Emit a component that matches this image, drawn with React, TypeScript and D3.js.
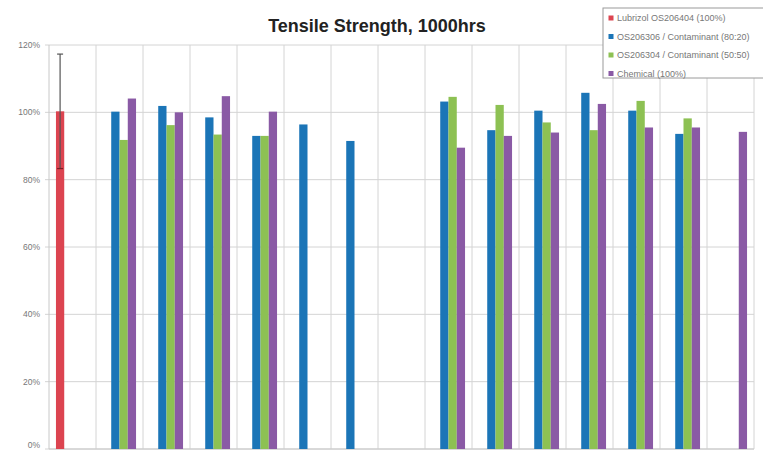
import React from "react";
import * as d3 from "d3";

const categories = ["1", "2", "3", "4", "5", "6", "7", "8", "9", "10", "11", "12", "13", "14", "15"];
const seriesNames = [
  "Lubrizol OS206404 (100%)",
  "OS206306 / Contaminant (80:20)",
  "OS206304 / Contaminant (50:50)",
  "Chemical (100%)",
];
const seriesColors = ["#dc4450", "#1b75b7", "#8dc153", "#8a5aa5"];
const lubrizol = [1.003, null, null, null, null, null, null, null, null, null, null, null, null, null, null];
const contam8020 = [null, 1.002, 1.019, 0.985, 0.93, 0.964, 0.915, null, 1.032, 0.947, 1.005, 1.058, 1.005, 0.936, null];
const contam5050 = [null, 0.918, 0.962, 0.934, 0.93, null, null, null, 1.046, 1.022, 0.97, 0.947, 1.034, 0.982, null];
const chemical = [null, 1.041, 1.0, 1.048, 1.002, null, null, null, 0.895, 0.93, 0.94, 1.025, 0.955, 0.955, 0.942];
const lubrizolError = 0.17;
const yTicks = [0, 0.2, 0.4, 0.6, 0.8, 1.0, 1.2];

const W = 763;
const H = 452;
const left = 49;
const right = 754;
const top = 45;
const bottom = 449;

const App = () => {
  const series = [lubrizol, contam8020, contam5050, chemical];
  const x = d3.scaleBand<string>().domain(categories).range([left, right]);
  const bw = x.bandwidth();
  const gap = bw * 0.148;
  const inner = d3
    .scaleBand<number>()
    .domain([0, 1, 2, 3])
    .range([gap, bw - gap]);
  const y = d3.scaleLinear().domain([0, 1.2]).range([bottom, top]);
  const fmt = d3.format(".0%");

  const redX = (x(categories[0]) ?? 0) + (inner(0) ?? 0) + inner.bandwidth() / 2;

  return (
    <div style={{ position: "absolute", left: 0, top: 0 }}>
      <svg width={W} height={H} style={{ display: "block", fontFamily: "Liberation Sans, Arial, sans-serif" }}>
        <rect width={W} height={H} fill="#fff" />
        {/* horizontal gridlines */}
        {yTicks.map((t) => (
          <g key={t}>
            <line x1={left - 4} x2={right} y1={y(t)} y2={y(t)} stroke="#d4d4d4" strokeWidth={1} />
            <text x={40} y={Math.min(y(t), 445)} dy="0.35em" textAnchor="end" fontSize={8.5} fill="#777">
              {fmt(t)}
            </text>
          </g>
        ))}
        {/* vertical gridlines */}
        {categories.map((c) => (
          <line
            key={c}
            x1={(x(c) ?? 0) + bw}
            x2={(x(c) ?? 0) + bw}
            y1={top}
            y2={bottom}
            stroke="#d4d4d4"
            strokeWidth={1}
          />
        ))}
        <line x1={left} x2={left} y1={top} y2={bottom} stroke="#c8c8c8" />
        <line x1={left} x2={right} y1={bottom} y2={bottom} stroke="#c8c8c8" />
        {/* bars */}
        {series.map((s, si) =>
          s.map((v, ci) =>
            v == null ? null : (
              <rect
                key={`${si}-${ci}`}
                x={(x(categories[ci]) ?? 0) + (inner(si) ?? 0)}
                y={y(v)}
                width={inner.bandwidth()}
                height={bottom - y(v)}
                fill={seriesColors[si]}
              />
            )
          )
        )}
        {/* error bar */}
        <line
          x1={redX}
          x2={redX}
          y1={y(lubrizol[0]! + lubrizolError)}
          y2={y(lubrizol[0]! - lubrizolError)}
          stroke="#555"
          strokeWidth={1.2}
        />
        <line
          x1={redX - 3}
          x2={redX + 3}
          y1={y(lubrizol[0]! + lubrizolError)}
          y2={y(lubrizol[0]! + lubrizolError)}
          stroke="#555"
          strokeWidth={1.2}
        />
        <line
          x1={redX - 3}
          x2={redX + 3}
          y1={y(lubrizol[0]! - lubrizolError)}
          y2={y(lubrizol[0]! - lubrizolError)}
          stroke="#7a1f25"
          strokeWidth={1.2}
        />
        {/* title */}
        <text x={377} y={26} dy="0.35em" textAnchor="middle" fontSize={18} fontWeight="bold" fill="#222">
          Tensile Strength, 1000hrs
        </text>
        {/* legend */}
        <rect x={603} y={8} width={170} height={70} fill="#fff" stroke="#9a9a9a" strokeWidth={1} />
        {seriesNames.map((n, i) => (
          <g key={n} transform={`translate(611, ${18 + i * 18.5})`}>
            <rect x={-2.5} y={-2.5} width={5} height={5} fill={seriesColors[i]} />
            <text x={6} y={0} dy="0.35em" fontSize={9} fill="#777">
              {n}
            </text>
          </g>
        ))}
      </svg>
    </div>
  );
};

export default App;
